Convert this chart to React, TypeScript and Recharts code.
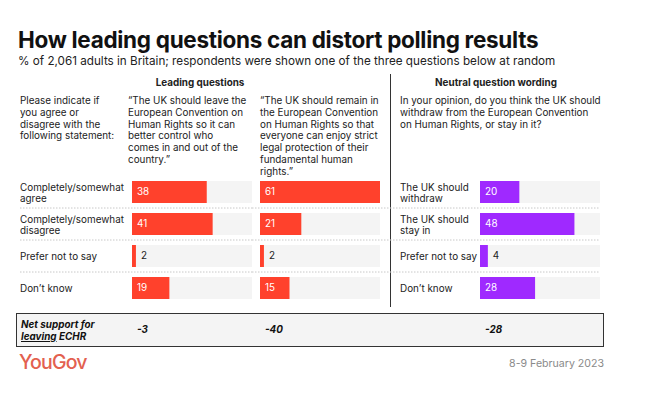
import React from 'react';
import { BarChart, Bar, XAxis, YAxis, LabelList } from 'recharts';

const leadingRows = ['Completely/somewhat\nagree', 'Completely/somewhat\ndisagree', 'Prefer not to say', 'Don’t know'];
const neutralRows = ['The UK should\nwithdraw', 'The UK should\nstay in', 'Prefer not to say', 'Don’t know'];
const leaveValues = [38, 41, 2, 19];
const remainValues = [61, 21, 2, 15];
const neutralValues = [20, 48, 4, 28];
const netSupport = [-3, -40, -28];
const maxValue = 61;

const RED = '#ff412c';
const PURPLE = '#9f29ff';
const TRACK = '#f4f4f4';
const FONT = 'Inter, "Noto Sans", sans-serif';
const TEXT = '#222';
const FS = 9.9;

const makeRows = (labels: string[], values: number[]) =>
  labels.map((label, i) => ({ label, value: values[i] }));

// tick draws the row label (optional) and the dotted separator under each row
const makeTick = (labelX: number | null, lineEnd: number, rows: number) => (props: any) => {
  const { y, payload, index } = props;
  const lines = String(payload.value).split('\n');
  return (
    <g>
      {labelX !== null &&
        lines.map((ln, i) => (
          <text
            key={i}
            x={labelX}
            y={y + 1 + (i - (lines.length - 1) / 2) * 11.5}
            dy="0.35em"
            fill={TEXT}
            fontSize={FS}
            fontFamily={FONT}
            textAnchor="start"
          >
            {ln}
          </text>
        ))}
      {index < rows - 1 && (
        <line x1={0} x2={lineEnd} y1={y + 16} y2={y + 16} stroke="#c8c8c8" strokeDasharray="1.5 1.5" />
      )}
    </g>
  );
};

const ValueLabel = (props: any) => {
  const { x, y, width, height, value } = props;
  const inside = value >= 5;
  return (
    <text
      x={inside ? x + 5 : x + width + 5}
      y={y + height / 2}
      dy="0.35em"
      fill={inside ? '#fff' : TEXT}
      fontSize={FS}
      fontFamily={FONT}
    >
      {value}
    </text>
  );
};

interface ColProps {
  rows: { label: string; value: number }[];
  width: number;
  axisWidth: number;
  labelX: number | null;
  color: string;
  rightMargin?: number;
}

const Column: React.FC<ColProps> = ({ rows, width, axisWidth, labelX, color, rightMargin = 0 }) => (
  <BarChart
    width={width}
    height={128}
    data={rows}
    layout="vertical"
    margin={{ top: 0, right: rightMargin, bottom: 0, left: 0 }}
    barSize={22}
  >
    <XAxis type="number" domain={[0, maxValue]} hide />
    <YAxis
      type="category"
      dataKey="label"
      width={axisWidth}
      axisLine={false}
      tickLine={false}
      interval={0}
      tick={makeTick(labelX, width, rows.length)}
    />
    <Bar dataKey="value" fill={color} background={{ fill: TRACK }} isAnimationActive={false}>
      <LabelList dataKey="value" content={ValueLabel} />
    </Bar>
  </BarChart>
);

const abs = (left: number, top: number, extra: React.CSSProperties = {}): React.CSSProperties => ({
  position: 'absolute',
  left,
  top,
  ...extra,
});

const body: React.CSSProperties = { fontSize: FS, lineHeight: '11.8px', color: TEXT, fontFamily: FONT, whiteSpace: 'nowrap' };

export default function App() {
  return (
    <div style={{ position: 'absolute', left: 0, top: 0, width: 647, height: 394, background: '#fff', fontFamily: FONT }}>
      <div style={abs(18, 26, { fontSize: 22.5, fontWeight: 700, color: '#111', letterSpacing: -0.3, whiteSpace: 'nowrap' })}>
        How leading questions can distort polling results
      </div>
      <div style={abs(18, 54, { fontSize: 11.7, color: '#222', whiteSpace: 'nowrap' })}>
        % of 2,061 adults in Britain; respondents were shown one of the three questions below at random
      </div>

      <div style={abs(150, 77, { ...body, fontWeight: 700, width: 100, textAlign: 'center' })}>Leading questions</div>
      <div style={abs(420, 77, { ...body, fontWeight: 700, width: 152, textAlign: 'center' })}>
        Neutral question wording
      </div>

      <div style={abs(20, 95, body)}>
        Please indicate if
        <br />
        you agree or
        <br />
        disagree with the
        <br />
        following statement:
      </div>
      <div style={abs(128, 95, body)}>
        “The UK should leave the
        <br />
        European Convention on
        <br />
        Human Rights so it can
        <br />
        better control who
        <br />
        comes in and out of the
        <br />
        country.”
      </div>
      <div style={abs(260, 95, body)}>
        “The UK should remain in
        <br />
        the European Convention
        <br />
        on Human Rights so that
        <br />
        everyone can enjoy strict
        <br />
        legal protection of their
        <br />
        fundamental human
        <br />
        rights.”
      </div>
      <div style={abs(400, 95, body)}>
        In your opinion, do you think the UK should
        <br />
        withdraw from the European Convention
        <br />
        on Human Rights, or stay in it?
      </div>

      <div style={abs(390, 74, { width: 1, height: 233, background: '#333' })} />

      <div style={abs(20, 176)}>
        <Column rows={makeRows(leadingRows, leaveValues)} width={232} axisWidth={112} labelX={0} color={RED} />
      </div>
      <div style={abs(252, 176)}>
        <Column rows={makeRows(leadingRows, remainValues)} width={138} axisWidth={8} labelX={null} color={RED} rightMargin={10} />
      </div>
      <div style={abs(390, 176)}>
        <Column rows={makeRows(neutralRows, neutralValues)} width={210} axisWidth={90} labelX={10} color={PURPLE} />
      </div>

      <div
        style={abs(16, 313, {
          width: 586,
          height: 32,
          border: '1.5px solid #333',
          background: TRACK,
        })}
      />
      <div style={abs(21, 319, { ...body, fontWeight: 700, fontStyle: 'italic', color: '#111' })}>
        Net support for
        <br />
        <span style={{ textDecoration: 'underline' }}>leaving</span> ECHR
      </div>
      {netSupport.map((v, i) => (
        <div
          key={i}
          style={abs([137, 265, 485][i], 324, { ...body, fontWeight: 700, fontStyle: 'italic', color: '#111' })}
        >
          {v}
        </div>
      ))}

      <div style={abs(19, 350, { fontSize: 19.5, color: '#e3604f', letterSpacing: -0.8, fontWeight: 500 })}>YouGov</div>
      <div style={abs(404, 357, { width: 200, textAlign: 'right', fontSize: 10.6, color: '#8a8a8a' })}>
        8-9 February 2023
      </div>
    </div>
  );
}
